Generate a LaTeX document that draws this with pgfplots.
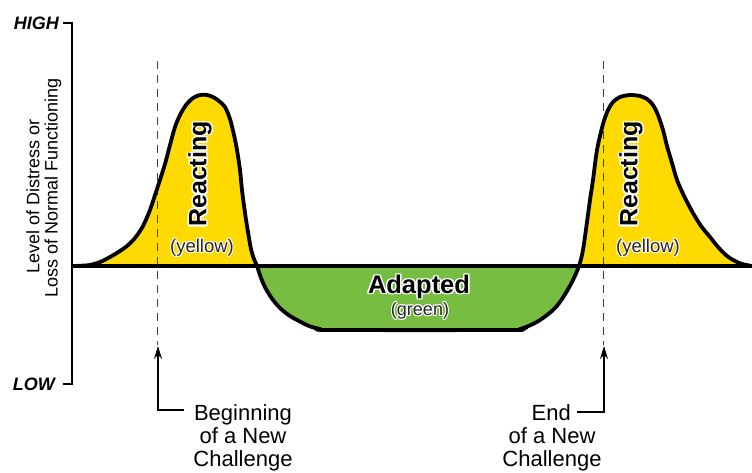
\documentclass[border=0pt]{standalone}
\usepackage{pgfplots}
\pgfplotsset{compat=1.18}
\usetikzlibrary{arrows.meta}
\usepackage{fontspec}
\setmainfont{Liberation Sans}
\definecolor{cyel}{RGB}{255,218,0}
\definecolor{cgrn}{RGB}{118,189,66}
\newcommand\halo[2][1pt]{\leavevmode
 \rlap{\color{white}\hspace*{#1}#2}%
 \rlap{\color{white}\hspace*{-#1}#2}%
 \rlap{\color{white}\raisebox{#1}{#2}}%
 \rlap{\color{white}\raisebox{-#1}{#2}}%
 \rlap{\color{white}\hspace*{#1}\raisebox{#1}{#2}}%
 \rlap{\color{white}\hspace*{-#1}\raisebox{#1}{#2}}%
 \rlap{\color{white}\hspace*{#1}\raisebox{-#1}{#2}}%
 \rlap{\color{white}\hspace*{-#1}\raisebox{-#1}{#2}}%
 #2}
\begin{document}
\begin{tikzpicture}
\useasboundingbox (0,0) rectangle (752pt,472pt);
\begin{axis}[
  at={(0,0)}, anchor=south west,
  scale only axis, width=752pt, height=472pt,
  xmin=0, xmax=752, ymin=0, ymax=472, y dir=reverse,
  hide axis, clip=false,
]
% fills
\addplot[fill=cyel, draw=none, smooth] coordinates {
(75,266) (90,265) (100,262) (110,257) (120,251) (127,246) (135,238) (143,226) (150,210) (157,189) (165,164) (170,145) (175,127) (180,115) (186,105) (193,98) (200,95) (207,95) (213,97) (219,101) (225,107) (230,119) (234,135) (237,150) (240,170) (242,190) (245,213) (248,232) (251,249) (254,259) (257,266)
} -- cycle;
\addplot[fill=cgrn, draw=none, smooth] coordinates {
(257,266) (261,278) (266,289) (273,300) (281,309) (290,316) (299,321) (309,326) (320,329) (332,330) (508,330) (520,329) (533,324) (543,318) (553,310) (560,302) (567,291) (573,280) (579,266)
} -- cycle;
\addplot[fill=cyel, draw=none, smooth] coordinates {
(579,266) (583,250) (587,222) (590,200) (593,180) (597,150) (603,124) (608,110) (613,102) (620,97) (630,95) (640,96) (647,99) (653,105) (658,115) (663,130) (667,146) (672,163) (677,180) (685,198) (693,213) (701,226) (710,237) (718,247) (727,256) (735,261) (742,264) (752,266)
} -- cycle;
% dashed lines
\addplot[black!75, line width=1pt, dash pattern=on 8pt off 6pt] coordinates {(157,61) (157,345)};
\addplot[black!75, line width=1pt, dash pattern=on 8pt off 6pt] coordinates {(603,61) (603,345)};
% baseline
\addplot[black, line width=3.8pt] coordinates {(72,266) (752,266)};
% curve outline
\addplot[black, line width=3.8pt, smooth] coordinates {
(75,266) (90,265) (100,262) (110,257) (120,251) (127,246) (135,238) (143,226) (150,210) (157,189) (165,164) (170,145) (175,127) (180,115) (186,105) (193,98) (200,95) (207,95) (213,97) (219,101) (225,107) (230,119) (234,135) (237,150) (240,170) (242,190) (245,213) (248,232) (251,249) (254,259) (257,266)
(261,278) (266,289) (273,300) (281,309) (290,316) (299,321) (309,326) (320,329) (332,330) (508,330) (520,329) (533,324) (543,318) (553,310) (560,302) (567,291) (573,280) (579,266)
(583,250) (587,222) (590,200) (593,180) (597,150) (603,124) (608,110) (613,102) (620,97) (630,95) (640,96) (647,99) (653,105) (658,115) (663,130) (667,146) (672,163) (677,180) (685,198) (693,213) (701,226) (710,237) (718,247) (727,256) (735,261) (742,264) (752,266)
};
% y axis
\addplot[black, line width=1.2pt] coordinates {(63,23) (72,23) (72,384) (63,384)};
% arrows
\addplot[black, line width=1.6pt, -{Stealth[length=13pt,width=8pt]}] coordinates {(184,410) (158,410) (158,346)};
\addplot[black, line width=1.6pt, -{Stealth[length=13pt,width=8pt]}] coordinates {(577,412) (604,412) (604,346)};
% texts
\node[anchor=east, inner sep=0, font=\fontsize{18}{20}\selectfont\bfseries\itshape] at (axis cs:59,23) {HIGH};
\node[anchor=east, inner sep=0, font=\fontsize{18}{20}\selectfont\bfseries\itshape] at (axis cs:55,384) {LOW};
\node[rotate=90, inner sep=0, font=\fontsize{18}{20}\selectfont] at (axis cs:33,196) {Level of Distress or};
\node[rotate=90, inner sep=0, font=\fontsize{18}{20}\selectfont] at (axis cs:53,188) {Loss of Normal Functioning};
\node[rotate=90, inner sep=0, font=\fontsize{25}{27}\selectfont\bfseries] at (axis cs:200,174) {\halo[1.3pt]{Reacting}};
\node[rotate=90, inner sep=0, font=\fontsize{25}{27}\selectfont\bfseries] at (axis cs:631,174) {\halo[1.3pt]{Reacting}};
\node[inner sep=0, font=\fontsize{18.5}{20}\selectfont, text=black!85] at (axis cs:202,248) {\halo[0.8pt]{(yellow)}};
\node[inner sep=0, font=\fontsize{18.5}{20}\selectfont, text=black!85] at (axis cs:648,248) {\halo[0.8pt]{(yellow)}};
\node[inner sep=0, font=\fontsize{25.5}{27}\selectfont\bfseries] at (axis cs:419,287) {\halo[1.3pt]{Adapted}};
\node[inner sep=0, font=\fontsize{18}{20}\selectfont, text=black!85] at (axis cs:420,311) {\halo[0.8pt]{(green)}};
\node[anchor=base, inner sep=0, font=\fontsize{22}{24}\selectfont] at (axis cs:243,420) {Beginning};
\node[anchor=base, inner sep=0, font=\fontsize{22}{24}\selectfont] at (axis cs:243,443) {of a New};
\node[anchor=base, inner sep=0, font=\fontsize{22}{24}\selectfont] at (axis cs:243,466) {Challenge};
\node[anchor=base east, inner sep=0, font=\fontsize{22}{24}\selectfont] at (axis cs:571,420) {End};
\node[anchor=base, inner sep=0, font=\fontsize{22}{24}\selectfont] at (axis cs:552,443) {of a New};
\node[anchor=base, inner sep=0, font=\fontsize{22}{24}\selectfont] at (axis cs:552,466) {Challenge};
\end{axis}
\end{tikzpicture}
\end{document}
